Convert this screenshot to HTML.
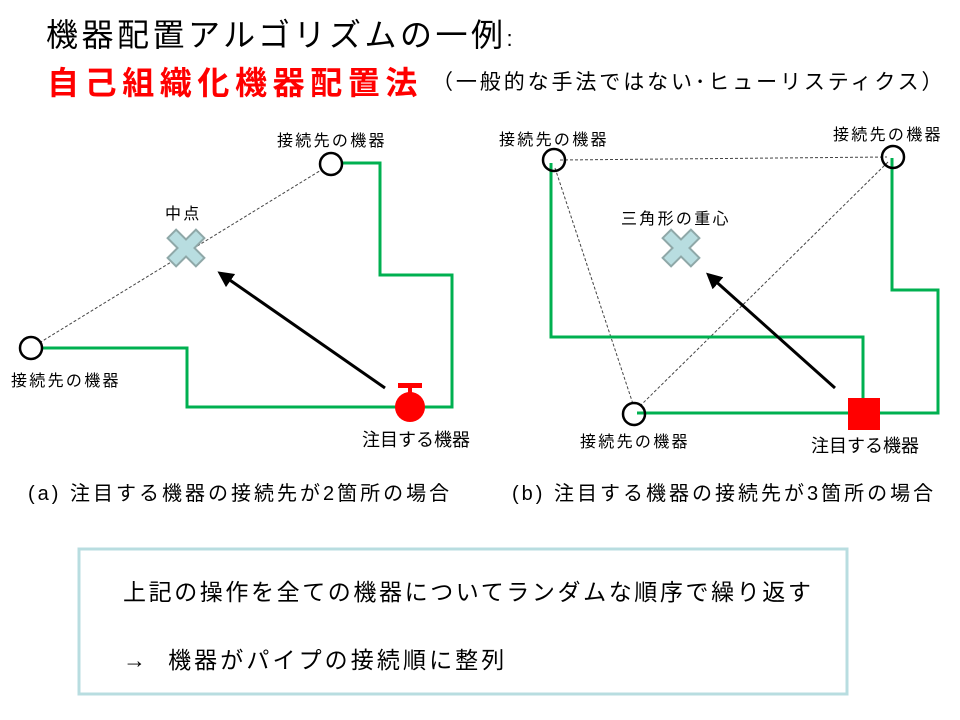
<!DOCTYPE html>
<html><head><meta charset="utf-8"><style>
html,body{margin:0;padding:0;background:#fff;}
body{width:960px;height:720px;position:relative;overflow:hidden;font-family:"Liberation Sans","Noto Sans CJK JP",sans-serif;}
.t{position:absolute;white-space:nowrap;color:#000;}
.l{font-size:16px;letter-spacing:2.3px;}
</style></head><body>
<div class="t" style="left:46px;top:10px;font-size:32px;letter-spacing:3.5px;">機器配置アルゴリズムの一例<span style="font-size:22px">:</span></div>
<div class="t" style="left:47px;top:58px;font-size:32px;font-weight:bold;color:#ff0000;letter-spacing:5.6px;">自己組織化機器配置法</div>
<div class="t" style="left:432px;top:66px;font-size:21px;letter-spacing:2.9px;">（一般的な手法ではない･ヒューリスティクス）</div>

<svg width="960" height="720" style="position:absolute;left:0;top:0">
<defs>
<marker id="a2" viewBox="0 0 10 10" refX="5" refY="5" markerWidth="16" markerHeight="16" orient="auto" markerUnits="userSpaceOnUse"><path d="M0,0 L10,5 L0,10 z" fill="#000"/></marker></defs>
<line x1="31" y1="348" x2="331" y2="164" stroke="#444" stroke-width="1" stroke-dasharray="3,2"/>
<polyline points="342,163 380,163 380,275 452,275 452,407 187,407 187,348 43,348" fill="none" stroke="#00b050" stroke-width="3"/>
<circle cx="331" cy="164" r="11" fill="#fff" stroke="#000" stroke-width="2.5"/>
<circle cx="31" cy="348" r="11" fill="#fff" stroke="#000" stroke-width="2.5"/>
<g transform="translate(186,248) rotate(45)"><path d="M-6,-20 H6 V-6 H20 V6 H6 V20 H-6 V6 H-20 V-6 H-6 Z" fill="#b8dde0" stroke="#8fa8a8" stroke-width="2"/></g>
<line x1="385" y1="388" x2="224" y2="276" stroke="#000" stroke-width="3" marker-end="url(#a2)"/>
<rect x="398" y="383" width="24" height="5" fill="#f00"/>
<rect x="408" y="387" width="4" height="8" fill="#f00"/>
<circle cx="410" cy="407" r="15" fill="#f00"/>
<line x1="560" y1="160" x2="887" y2="157" stroke="#444" stroke-width="1" stroke-dasharray="3,2"/>
<line x1="555" y1="168" x2="633" y2="404" stroke="#444" stroke-width="1" stroke-dasharray="3,2"/>
<line x1="888" y1="162" x2="640" y2="406" stroke="#444" stroke-width="1" stroke-dasharray="3,2"/>
<polyline points="551,163 551,337 863,337 863,400" fill="none" stroke="#00b050" stroke-width="3"/>
<polyline points="637,413 938,413 938,290 892,290 892,158" fill="none" stroke="#00b050" stroke-width="3"/>
<circle cx="554" cy="160" r="11" fill="none" stroke="#000" stroke-width="2.5"/>
<circle cx="893" cy="157" r="11" fill="none" stroke="#000" stroke-width="2.5"/>
<circle cx="634" cy="414" r="11" fill="none" stroke="#000" stroke-width="2.5"/>
<g transform="translate(681,248) rotate(45)"><path d="M-6,-20 H6 V-6 H20 V6 H6 V20 H-6 V6 H-20 V-6 H-6 Z" fill="#b8dde0" stroke="#8fa8a8" stroke-width="2"/></g>
<line x1="835" y1="388" x2="712" y2="278" stroke="#000" stroke-width="3" marker-end="url(#a2)"/>
<rect x="848" y="398" width="32" height="32" fill="#f00"/>
<rect x="79" y="549" width="768" height="145" fill="none" stroke="#b8dde0" stroke-width="3"/>
</svg>

<div class="t l" style="left:277px;top:127px;">接続先の機器</div>
<div class="t l" style="left:165px;top:200px;">中点</div>
<div class="t l" style="left:11px;top:367px;">接続先の機器</div>
<div class="t" style="left:362px;top:426px;font-size:18px;">注目する機器</div>
<div class="t l" style="left:499px;top:126px;">接続先の機器</div>
<div class="t l" style="left:833px;top:121px;">接続先の機器</div>
<div class="t l" style="left:621px;top:205px;">三角形の重心</div>
<div class="t l" style="left:580px;top:428px;">接続先の機器</div>
<div class="t" style="left:811px;top:432px;font-size:18px;">注目する機器</div>
<div class="t" style="left:28px;top:477px;font-size:20px;letter-spacing:3px;">(a) 注目する機器の接続先が2箇所の場合</div>
<div class="t" style="left:512px;top:477px;font-size:20px;letter-spacing:3px;">(b) 注目する機器の接続先が3箇所の場合</div>
<div class="t" style="left:123px;top:573px;font-size:23px;letter-spacing:2.6px;">上記の操作を全ての機器についてランダムな順序で繰り返す</div>
<div class="t" style="left:123px;top:641px;font-size:23px;letter-spacing:3.1px;">→&nbsp;&nbsp;機器がパイプの接続順に整列</div>
</body></html>
